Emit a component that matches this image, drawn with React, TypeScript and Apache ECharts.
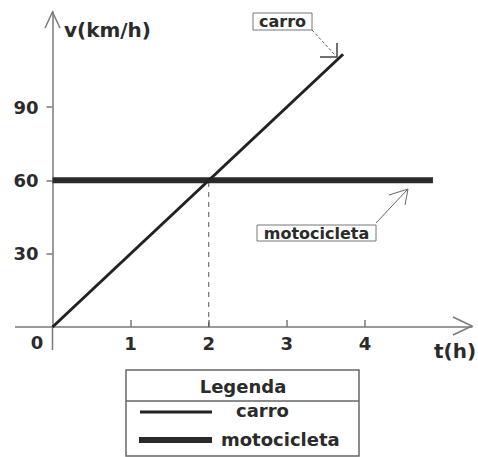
import React, { useEffect, useRef } from "react";
import * as echarts from "echarts";

const xTicks = [1, 2, 3, 4];
const yTicks = [30, 60, 90];
const carroData: [number, number][] = [
  [0, 0],
  [3.72, 111.6],
];
const motoData: [number, number][] = [
  [0, 60],
  [4.87, 60],
];
const encontro: [number, number][] = [
  [2, 0],
  [2, 60],
];
const legendItems = ["carro", "motocicleta"];

const FONT = "DejaVu Sans";
const TXT = "#2b2b2b";
const AX = "#7a7a7a";

export default function App() {
  const ref = useRef<HTMLDivElement>(null);
  useEffect(() => {
    if (!ref.current) return;
    const chart = echarts.init(ref.current, undefined, { renderer: "svg" });
    chart.setOption({
      animation: false,
      backgroundColor: "#fff",
      grid: { left: 52.5, right: 6, top: 12, bottom: 130, outerBoundsMode: "none" },
      xAxis: {
        type: "value",
        min: 0,
        max: 5.37,
        splitLine: { show: false },
        axisLine: { lineStyle: { color: AX, width: 1.5 } },
        axisTick: { show: true, inside: true, length: 7, customValues: xTicks, lineStyle: { color: AX, width: 1.5 } },
        axisLabel: {
          customValues: xTicks,
          margin: 7,
          color: TXT,
          fontFamily: FONT,
          fontWeight: "bold",
          fontSize: 18,
        },
      },
      yAxis: {
        type: "value",
        min: 0,
        max: 128.9,
        splitLine: { show: false },
        axisLine: { lineStyle: { color: AX, width: 1.5 } },
        axisTick: { show: true, length: 6, customValues: yTicks, lineStyle: { color: AX, width: 1.5 } },
        axisLabel: {
          customValues: yTicks,
          margin: 14,
          color: TXT,
          fontFamily: FONT,
          fontWeight: "bold",
          fontSize: 18,
        },
      },
      series: [
        {
          name: "encontro",
          type: "line",
          data: encontro,
          symbol: "none",
          lineStyle: { color: "#555", width: 1, type: [5, 5] },
          z: 1,
        },
        {
          name: "motocicleta",
          type: "line",
          data: motoData,
          symbol: "none",
          lineStyle: { color: "#2a2a2a", width: 6 },
          z: 2,
        },
        {
          name: "carro",
          type: "line",
          data: carroData,
          symbol: "none",
          lineStyle: { color: "#222", width: 3 },
          z: 3,
        },
      ],
      graphic: [
        // axis extensions past the origin
        { type: "line", shape: { x1: 15, y1: 327, x2: 52.5, y2: 327 }, style: { stroke: AX, lineWidth: 1.5 } },
        { type: "line", shape: { x1: 52.5, y1: 327, x2: 52.5, y2: 350 }, style: { stroke: AX, lineWidth: 1.5 } },
        // axis arrows
        { type: "polyline", shape: { points: [[45, 28], [52.5, 12], [60, 28]] }, style: { stroke: AX, lineWidth: 1.5, fill: null } },
        { type: "polyline", shape: { points: [[453, 317], [472, 326], [453, 335]] }, style: { stroke: AX, lineWidth: 1.5, fill: null } },
        // axis titles
        { type: "text", x: 64, y: 30, style: { text: "v(km/h)", font: `bold 20px "${FONT}"`, fill: TXT, textVerticalAlign: "middle" } },
        { type: "text", x: 434, y: 351, style: { text: "t(h)", font: `bold 20px "${FONT}"`, fill: TXT, textVerticalAlign: "middle" } },
        { type: "text", x: 37, y: 342, style: { text: "0", font: `bold 18px "${FONT}"`, fill: TXT, textAlign: "center", textVerticalAlign: "middle" } },
        // carro annotation
        { type: "rect", shape: { x: 253, y: 13, width: 59, height: 17 }, style: { stroke: "#777", lineWidth: 1, fill: "#fff" } },
        { type: "text", x: 282.5, y: 21.5, style: { text: "carro", font: `bold 16px "${FONT}"`, fill: TXT, textAlign: "center", textVerticalAlign: "middle" } },
        { type: "line", shape: { x1: 312, y1: 30, x2: 335, y2: 55 }, style: { stroke: "#555", lineWidth: 1, lineDash: [3, 2] } },
        { type: "polyline", shape: { points: [[320, 57], [337, 57], [337, 43]] }, style: { stroke: "#444", lineWidth: 1.5, fill: null } },
        // motocicleta annotation
        { type: "rect", shape: { x: 257, y: 225, width: 119, height: 16 }, style: { stroke: "#777", lineWidth: 1, fill: "#fff" } },
        { type: "text", x: 316.5, y: 233.5, style: { text: "motocicleta", font: `bold 16px "${FONT}"`, fill: TXT, textAlign: "center", textVerticalAlign: "middle" } },
        { type: "line", shape: { x1: 376, y1: 223, x2: 407, y2: 190 }, style: { stroke: "#666", lineWidth: 1 } },
        { type: "polyline", shape: { points: [[389, 195], [408, 189], [405, 205]] }, style: { stroke: "#666", lineWidth: 1, fill: null } },
        // legend box
        { type: "rect", shape: { x: 126, y: 370, width: 233, height: 86 }, style: { stroke: "#666", lineWidth: 1.5, fill: "#fff" } },
        { type: "line", shape: { x1: 126, y1: 401, x2: 359, y2: 401 }, style: { stroke: "#666", lineWidth: 1.5 } },
        { type: "text", x: 243, y: 386, style: { text: "Legenda", font: `bold 18px "${FONT}"`, fill: TXT, textAlign: "center", textVerticalAlign: "middle" } },
        { type: "line", shape: { x1: 140, y1: 412, x2: 212, y2: 412 }, style: { stroke: "#222", lineWidth: 3 } },
        { type: "text", x: 236, y: 410, style: { text: legendItems[0], font: `bold 18px "${FONT}"`, fill: TXT, textVerticalAlign: "middle" } },
        { type: "line", shape: { x1: 139, y1: 440, x2: 212, y2: 440 }, style: { stroke: "#2a2a2a", lineWidth: 6 } },
        { type: "text", x: 221, y: 439, style: { text: legendItems[1], font: `bold 18px "${FONT}"`, fill: TXT, textVerticalAlign: "middle" } },
      ],
    });
    return () => chart.dispose();
  }, []);
  return (
    <div
      ref={ref}
      style={{ position: "absolute", left: 0, top: 0, width: 478, height: 457 }}
    />
  );
}
